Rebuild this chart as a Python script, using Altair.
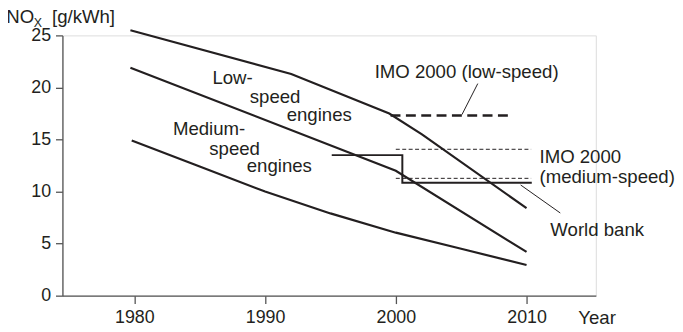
import altair as alt
import pandas as pd

# ---------------- data ----------------
low_years = [1979.7, 1992.0, 1999.5, 2002.0, 2010.0]
low_nox = [25.5, 21.3, 17.5, 15.5, 8.4]

mid_years = [1979.7, 2000.0, 2010.0]
mid_nox = [21.9, 12.0, 4.2]

bot_years = [1979.8, 1985, 1990, 1995, 2000, 2005, 2010]
bot_nox = [14.9, 12.4, 10.0, 7.9, 6.05, 4.5, 2.95]

wb_years = [1995.1, 2000.5, 2000.5, 2010.4]
wb_nox = [13.5, 13.5, 10.85, 10.85]

imo_low_years = [1999.6, 2008.9]
imo_low_nox = [17.3, 17.3]

imo_med_years = [2000.0, 2010.35]
imo_med_upper = [14.06, 14.06]
imo_med_lower = [11.27, 11.27]

lead_low_years = [2006.27, 2005.06]
lead_low_nox = [20.37, 17.39]
lead_wb_years = [2009.55, 2012.58]
lead_wb_nox = [10.63, 7.94]

x_ticks = [1980, 1990, 2000, 2010]
y_ticks = [0, 5, 10, 15, 20, 25]

labels = ["Low-", "speed", "engines", "Medium-", "speed", "engines",
          "IMO 2000 (low-speed)", "IMO 2000", "(medium-speed)", "World bank",
          "Year", "NO", "[g/kWh]"]
label_x = [1985.97, 1988.83, 1991.65, 1982.95, 1985.73, 1988.6,
           1998.38, 2010.99, 2010.99, 2011.82, 2013.96, 1970.2, 1973.7]
label_y = [20.31, 18.46, 16.82, 15.39, 13.49, 11.85,
           20.94, 12.7, 10.82, 5.71, -2.69, 26.15, 26.15]
sub_label = ["X"]
sub_x = [1972.3]
sub_y = [25.85]

# ---------------- helpers ----------------
INK = "#231f20"
AXIS = "#555555"
FONT = "Liberation Sans"
FS = 18.8
AFS = 18


def frame(years, vals):
    return pd.DataFrame({"year": years, "nox": vals, "i": list(range(len(years)))})


xs = alt.Scale(domain=[1974.5, 2015.3], nice=False, zero=False)
ys = alt.Scale(domain=[0, 25], nice=False, zero=False)
xax = alt.Axis(values=x_ticks, format="d", title=None, grid=False, tickSize=8,
               labelPadding=5, domainColor=AXIS, tickColor=AXIS, domainWidth=1.3,
               tickWidth=1.3, labelFont=FONT, labelFontSize=AFS, labelColor=INK)
yax = alt.Axis(values=y_ticks, title=None, grid=False, tickSize=7,
               labelPadding=5, domainColor=AXIS, tickColor=AXIS, domainWidth=1.3,
               tickWidth=1.3, labelFont=FONT, labelFontSize=AFS, labelColor=INK)


def X():
    return alt.X("year:Q", scale=xs, axis=xax)


def Y():
    return alt.Y("nox:Q", scale=ys, axis=yax)


def line(df, width, dash=None):
    kw = dict(color=INK, strokeWidth=width, strokeCap="butt", strokeJoin="miter")
    if dash is not None:
        kw["strokeDash"] = dash
    return alt.Chart(df).mark_line(**kw).encode(x=X(), y=Y(), order="i:Q")


layers = [
    line(frame(low_years, low_nox), 2.2),
    line(frame(mid_years, mid_nox), 2.2),
    line(frame(bot_years, bot_nox), 2.2),
    line(frame(wb_years, wb_nox), 2.0),
    line(frame(imo_low_years, imo_low_nox), 2.4, [10, 5.5]),
    line(frame(imo_med_years, imo_med_upper), 1.0, [4, 2.5]),
    line(frame(imo_med_years, imo_med_lower), 1.0, [4, 2.5]),
    line(frame(lead_low_years, lead_low_nox), 1.0),
    line(frame(lead_wb_years, lead_wb_nox), 1.0),
]

lab_df = pd.DataFrame({"year": label_x, "nox": label_y, "t": labels})
layers.append(
    alt.Chart(lab_df).mark_text(align="left", baseline="alphabetic", font=FONT,
                                fontSize=FS, color=INK)
    .encode(x=X(), y=Y(), text="t:N")
)
sub_df = pd.DataFrame({"year": sub_x, "nox": sub_y, "t": sub_label})
layers.append(
    alt.Chart(sub_df).mark_text(align="left", baseline="alphabetic", font=FONT,
                                fontSize=12.5, color=INK)
    .encode(x=X(), y=Y(), text="t:N")
)

chart = (
    alt.layer(*layers)
    .properties(width=539, height=263,
                autosize=alt.AutoSizeParams(type="none"),
                padding={"left": 55, "top": 26, "right": 80, "bottom": 31})
    .configure_view(stroke=None)
    .configure(background="white")
)

chart.save("out.html", embed_options={"renderer": "svg", "actions": False})
